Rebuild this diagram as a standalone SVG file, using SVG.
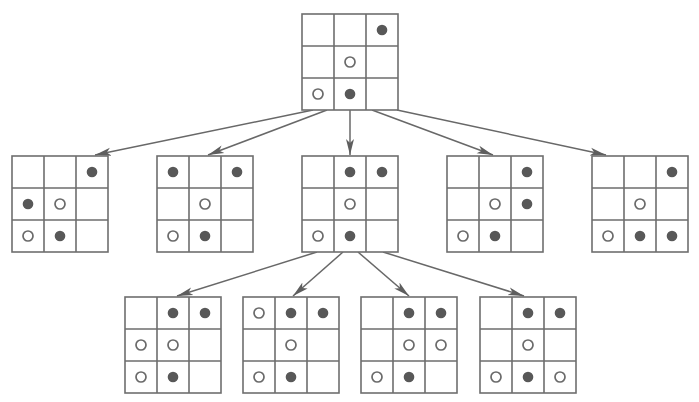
<svg xmlns="http://www.w3.org/2000/svg" xmlns:xlink="http://www.w3.org/1999/xlink" width="699" height="402" viewBox="0 0 699 402">
<style>
.grid{fill:#fff;stroke:#6e6e6e;stroke-width:1.6}
.x{fill:#585858}
.o{fill:#fff;stroke:#6a6a6a;stroke-width:1.7}
.edge{fill:none;stroke:#686868;stroke-width:1.5}
</style>
<defs>
<marker id="ah" markerUnits="userSpaceOnUse" markerWidth="18" markerHeight="10" refX="16" refY="4.5" orient="auto">
<path d="M0,0.5 L16,4.5 L0,8.5 L4,4.5 Z" fill="#5e5e5e"/>
</marker>
<g id="board"><rect class="grid" x="0" y="0" width="96" height="96"/><path class="grid" d="M32,0V96M64,0V96M0,32H96M0,64H96"/></g>
<circle id="X" class="x" r="5.3"/>
<circle id="O" class="o" r="5"/>
</defs>
<rect width="699" height="402" fill="#fff"/>
<g id="connectors">
<path class="edge" marker-end="url(#ah)" d="M313,110 L95,155"/>
<path class="edge" marker-end="url(#ah)" d="M327,110 L208,155"/>
<path class="edge" marker-end="url(#ah)" d="M350,110 L350,155"/>
<path class="edge" marker-end="url(#ah)" d="M372,110 L493,155"/>
<path class="edge" marker-end="url(#ah)" d="M397,110 L606,155"/>
<path class="edge" marker-end="url(#ah)" d="M317,252 L177,296"/>
<path class="edge" marker-end="url(#ah)" d="M343,252 L293,296"/>
<path class="edge" marker-end="url(#ah)" d="M358,252 L409,296"/>
<path class="edge" marker-end="url(#ah)" d="M383,252 L524,296"/>
</g>
<g id="root" transform="translate(302,14)"><use href="#board"/><use href="#X" x="80" y="16"/><use href="#O" x="48" y="48"/><use href="#O" x="16" y="80"/><use href="#X" x="48" y="80"/></g>
<g id="c1" transform="translate(12,156)"><use href="#board"/><use href="#X" x="80" y="16"/><use href="#X" x="16" y="48"/><use href="#O" x="48" y="48"/><use href="#O" x="16" y="80"/><use href="#X" x="48" y="80"/></g>
<g id="c2" transform="translate(157,156)"><use href="#board"/><use href="#X" x="16" y="16"/><use href="#X" x="80" y="16"/><use href="#O" x="48" y="48"/><use href="#O" x="16" y="80"/><use href="#X" x="48" y="80"/></g>
<g id="c3" transform="translate(302,156)"><use href="#board"/><use href="#X" x="48" y="16"/><use href="#X" x="80" y="16"/><use href="#O" x="48" y="48"/><use href="#O" x="16" y="80"/><use href="#X" x="48" y="80"/></g>
<g id="c4" transform="translate(447,156)"><use href="#board"/><use href="#X" x="80" y="16"/><use href="#O" x="48" y="48"/><use href="#X" x="80" y="48"/><use href="#O" x="16" y="80"/><use href="#X" x="48" y="80"/></g>
<g id="c5" transform="translate(592,156)"><use href="#board"/><use href="#X" x="80" y="16"/><use href="#O" x="48" y="48"/><use href="#O" x="16" y="80"/><use href="#X" x="48" y="80"/><use href="#X" x="80" y="80"/></g>
<g id="g1" transform="translate(125,297)"><use href="#board"/><use href="#X" x="48" y="16"/><use href="#X" x="80" y="16"/><use href="#O" x="16" y="48"/><use href="#O" x="48" y="48"/><use href="#O" x="16" y="80"/><use href="#X" x="48" y="80"/></g>
<g id="g2" transform="translate(243,297)"><use href="#board"/><use href="#O" x="16" y="16"/><use href="#X" x="48" y="16"/><use href="#X" x="80" y="16"/><use href="#O" x="48" y="48"/><use href="#O" x="16" y="80"/><use href="#X" x="48" y="80"/></g>
<g id="g3" transform="translate(361,297)"><use href="#board"/><use href="#X" x="48" y="16"/><use href="#X" x="80" y="16"/><use href="#O" x="48" y="48"/><use href="#O" x="80" y="48"/><use href="#O" x="16" y="80"/><use href="#X" x="48" y="80"/></g>
<g id="g4" transform="translate(480,297)"><use href="#board"/><use href="#X" x="48" y="16"/><use href="#X" x="80" y="16"/><use href="#O" x="48" y="48"/><use href="#O" x="16" y="80"/><use href="#X" x="48" y="80"/><use href="#O" x="80" y="80"/></g>
</svg>
